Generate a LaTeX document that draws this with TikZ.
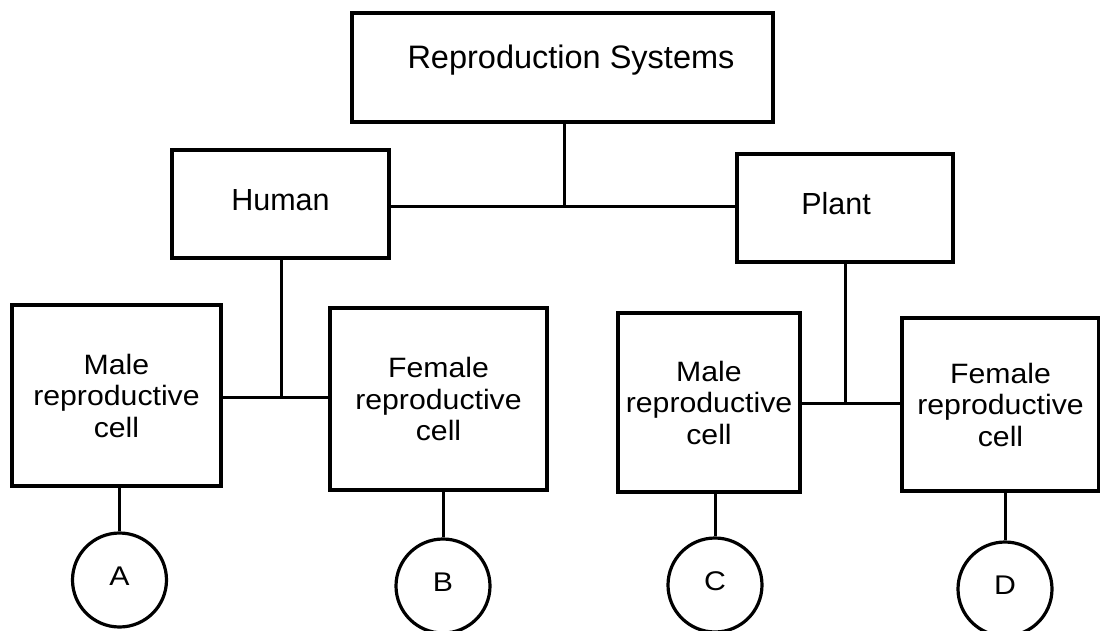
\documentclass[tikz,border=0pt]{standalone}
\usepackage{fontspec}
\setmainfont{Liberation Sans}
\newfontfamily\cellfont{Liberation Sans}[FakeStretch=1.08]
\newfontfamily\letterfont{Liberation Sans}[FakeStretch=1.12]
\begin{document}
\begin{tikzpicture}[x=1pt,y=-1pt,
  box/.style={draw, line width=3.2pt, rectangle, inner sep=0pt},
  cellbox/.style={box, align=center, font=\cellfont\fontsize{28}{31.5}\selectfont},
  headbox/.style={box, font=\fontsize{30.5}{34}\selectfont, text height=21.8pt, text depth=8pt},
  conn/.style={line width=3pt},
  circ/.style={draw, circle, line width=3.2pt, inner sep=0pt, minimum size=94pt,
    font=\letterfont\fontsize{27}{27}\selectfont, text height=19.3pt, text depth=8pt}]
\useasboundingbox (0,0) rectangle (1100,631);

\node[box, minimum width=421pt, minimum height=109pt,
  font=\fontsize{32.5}{36}\selectfont, text height=23.3pt, text depth=22pt]
  (top) at (562.5,67.5) {\kern17pt Reproduction Systems};

\node[headbox, minimum width=217pt, minimum height=108pt] (hum) at (280.5,204) {Human};
\node[headbox, minimum width=216pt, minimum height=108pt] (plant) at (845,208) {Plant\kern18pt};

\node[cellbox, minimum width=209pt, minimum height=181pt] (m1) at (116.5,395.5) {Male\\reproductive\\cell};
\node[cellbox, minimum width=217pt, minimum height=182pt] (f1) at (438.5,399) {Female\\reproductive\\cell};
\node[cellbox, minimum width=182pt, minimum height=179pt] (m2) at (709,402.5) {Male\\reproductive\\cell};
\node[cellbox, minimum width=197pt, minimum height=173pt] (f2) at (1000.5,404.5) {Female\\reproductive\\cell};

\node[circ] (A) at (119.5,580) {A};
\node[circ] (B) at (443,586) {B};
\node[circ] (C) at (715,585) {C};
\node[circ] (D) at (1005,589) {D};

\coordinate (j0) at (564,206.5);
\coordinate (j1) at (281,397);
\coordinate (j2) at (845,403);

\draw[conn] (top.south -| j0) -- (j0);
\draw[conn] (hum.east |- j0) -- (plant.west |- j0);
\draw[conn] (hum.south -| j1) -- (j1);
\draw[conn] (m1.east |- j1) -- (f1.west |- j1);
\draw[conn] (plant.south -| j2) -- (j2);
\draw[conn] (m2.east |- j2) -- (f2.west |- j2);

\draw[conn] (m1.south -| A.north) -- (A.north);
\draw[conn] (f1.south -| B.north) -- (B.north);
\draw[conn] (m2.south -| C.north) -- (C.north);
\draw[conn] (f2.south -| D.north) -- (D.north);
\end{tikzpicture}
\end{document}
